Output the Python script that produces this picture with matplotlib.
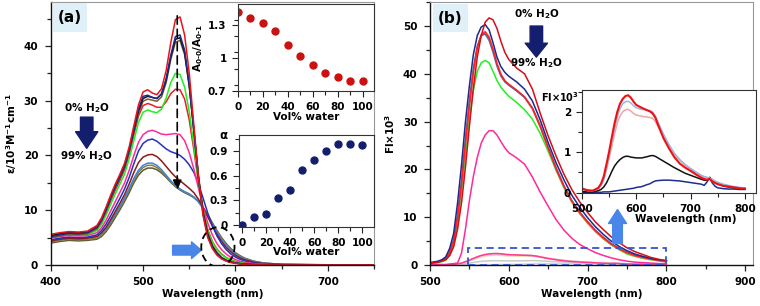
import matplotlib
matplotlib.use("Agg")
import matplotlib.pyplot as plt
from matplotlib.patches import Rectangle, Ellipse
from matplotlib.ticker import MultipleLocator

plt.rcParams['font.family'] = ['DejaVu Sans']
plt.rcParams['font.weight'] = 'bold'
plt.rcParams['mathtext.fontset'] = 'dejavusans'
plt.rcParams['mathtext.default'] = 'bf'

# ---------------- Panel (a): absorption ----------------
wl_a = [400, 410, 420, 430, 440, 450, 455, 460, 465, 470, 475, 480, 485, 490, 495,
        500, 505, 510, 515, 520, 525, 530, 535, 540, 545, 550, 555, 560, 565, 570,
        575, 580, 585, 590, 595, 600, 605, 610, 620, 630, 650, 700, 750]

abs_c12 = [4.0, 4.3, 4.5, 4.4, 4.5, 4.7, 5.2, 6.1, 7.3, 8.7, 10.1, 11.6, 13.2, 15.0, 16.4,
           17.3, 17.7, 17.7, 17.4, 16.8, 16.0, 15.1, 14.3, 13.7, 13.2, 12.8, 12.3, 11.6, 10.5, 9.2,
           7.7, 6.3, 5.0, 3.9, 3.0, 2.25, 1.7, 1.25, 0.7, 0.38, 0.12, 0.04, 0.02]
abs_c11 = [4.2, 4.5, 4.7, 4.6, 4.7, 4.9, 5.5, 6.4, 7.7, 9.1, 10.5, 12.0, 13.6, 15.4, 16.9,
           17.8, 18.2, 18.2, 17.8, 17.1, 16.2, 15.2, 14.4, 13.8, 13.3, 12.9, 12.4, 11.6, 10.5, 9.1,
           7.6, 6.2, 4.9, 3.8, 2.9, 2.15, 1.6, 1.2, 0.65, 0.35, 0.11, 0.03, 0.02]
abs_c10 = [4.5, 4.8, 5.0, 4.9, 5.0, 5.2, 5.8, 6.7, 8.0, 9.4, 10.8, 12.3, 14.0, 15.8, 17.3,
           18.2, 18.6, 18.6, 18.2, 17.4, 16.4, 15.4, 14.5, 13.9, 13.4, 13.0, 12.4, 11.5, 10.3, 8.9,
           7.4, 6.0, 4.7, 3.6, 2.7, 2.0, 1.5, 1.1, 0.6, 0.32, 0.1, 0.03, 0.02]
abs_c9 = [4.4, 4.7, 4.9, 4.8, 4.9, 5.2, 5.9, 6.9, 8.3, 9.8, 11.3, 12.9, 14.8, 16.9, 18.7,
          19.7, 20.1, 20.2, 19.8, 19.0, 18.0, 17.0, 16.1, 15.4, 14.7, 14.0, 13.2, 12.0, 10.5, 8.8,
          7.1, 5.6, 4.3, 3.2, 2.4, 1.75, 1.3, 0.95, 0.5, 0.26, 0.08, 0.02, 0.01]
abs_c8 = [4.6, 4.9, 5.1, 5.0, 5.1, 5.5, 6.3, 7.5, 9.0, 10.6, 12.2, 13.9, 16.0, 18.5, 20.8,
          22.2, 22.8, 23.0, 22.6, 21.9, 21.2, 20.7, 20.4, 20.0, 19.3, 18.3, 16.9, 14.8, 12.2, 9.5,
          7.2, 5.3, 3.9, 2.8, 2.0, 1.45, 1.05, 0.75, 0.38, 0.2, 0.06, 0.02, 0.01]
abs_c7 = [4.9, 5.2, 5.4, 5.3, 5.4, 5.9, 6.8, 8.2, 9.9, 11.6, 13.3, 15.0, 17.3, 20.0, 22.4,
          23.8, 24.4, 24.6, 24.3, 23.9, 23.8, 23.9, 24.0, 23.8, 22.7, 20.5, 17.5, 14.0, 10.6, 7.7,
          5.5, 3.9, 2.8, 2.0, 1.4, 1.0, 0.7, 0.5, 0.25, 0.12, 0.04, 0.01, 0.0]
abs_c6 = [5.3, 5.6, 5.9, 5.8, 5.9, 6.6, 7.8, 9.6, 11.7, 13.7, 15.5, 17.4, 20.3, 23.8, 27.2,
          29.1, 29.5, 29.2, 28.8, 28.8, 29.8, 31.3, 32.1, 32.0, 30.3, 26.5, 21.0, 15.0, 10.0, 6.5,
          4.3, 2.9, 2.0, 1.35, 0.95, 0.65, 0.45, 0.3, 0.15, 0.07, 0.02, 0.0, 0.0]
abs_c5 = [5.1, 5.4, 5.6, 5.5, 5.6, 6.3, 7.4, 9.1, 11.1, 13.0, 14.8, 16.6, 19.4, 22.7, 26.0,
          27.9, 28.3, 28.0, 27.8, 28.5, 30.5, 33.3, 35.0, 34.8, 32.5, 28.0, 21.8, 15.2, 9.9, 6.3,
          4.2, 2.8, 1.9, 1.3, 0.9, 0.6, 0.4, 0.27, 0.13, 0.06, 0.02, 0.0, 0.0]
abs_c4 = [5.0, 5.3, 5.6, 5.5, 5.7, 6.6, 7.9, 9.8, 12.0, 14.0, 15.8, 17.7, 20.6, 24.1, 27.7,
          29.9, 30.3, 30.1, 29.9, 30.7, 33.3, 37.5, 40.7, 41.0, 38.4, 32.6, 24.6, 16.3, 9.9, 5.9,
          3.6, 2.3, 1.4, 0.9, 0.6, 0.4, 0.27, 0.17, 0.09, 0.04, 0.0, 0.0, 0.0]
abs_c3 = [5.4, 5.7, 6.0, 5.9, 6.0, 6.9, 8.3, 10.3, 12.5, 14.5, 16.3, 18.2, 21.1, 24.6, 28.2,
          30.4, 30.8, 30.6, 30.4, 31.2, 33.8, 38.0, 41.2, 41.5, 38.8, 32.8, 24.5, 16.0, 9.5, 5.6,
          3.4, 2.1, 1.3, 0.85, 0.55, 0.38, 0.25, 0.15, 0.08, 0.04, 0.0, 0.0, 0.0]
abs_c2 = [5.2, 5.5, 5.8, 5.7, 5.9, 6.9, 8.2, 10.1, 12.3, 14.3, 16.1, 18.0, 21.0, 24.7, 28.5,
          30.8, 31.0, 30.6, 30.4, 31.3, 34.0, 38.3, 41.7, 42.0, 39.2, 33.0, 24.5, 15.8, 9.2, 5.3,
          3.2, 2.0, 1.2, 0.8, 0.5, 0.35, 0.22, 0.14, 0.07, 0.03, 0.0, 0.0, 0.0]
abs_c1 = [5.6, 5.9, 6.1, 6.0, 6.2, 7.2, 8.6, 10.6, 12.8, 14.8, 16.6, 18.6, 21.6, 25.4, 29.2,
          31.6, 32.0, 31.4, 31.1, 32.2, 35.5, 40.6, 44.8, 45.3, 42.0, 35.0, 25.5, 16.0, 9.0, 5.0,
          3.0, 1.8, 1.1, 0.7, 0.45, 0.3, 0.2, 0.12, 0.06, 0.03, 0.0, 0.0, 0.0]

abs_series = [abs_c12, abs_c11, abs_c10, abs_c9, abs_c8, abs_c7, abs_c6, abs_c5, abs_c4, abs_c3, abs_c2, abs_c1]
abs_colors = ['#5c5a2e', '#8a7a45', '#3d85d8', '#8b1a1a', '#2233bb', '#ff2a9a',
              '#ee1c24', '#22ee22', '#7a5c2e', '#111111', '#1c2a8c', '#e8141a']

water = [0, 10, 20, 30, 40, 50, 60, 70, 80, 90, 100]
ratio = [1.416, 1.367, 1.321, 1.242, 1.120, 1.020, 0.935, 0.864, 0.822, 0.791, 0.785]
alpha_v = [0.0, 0.094, 0.135, 0.331, 0.421, 0.671, 0.798, 0.908, 0.994, 0.994, 0.973]

# ---------------- Panel (b): fluorescence ----------------
wl_b = [500, 510, 515, 520, 525, 530, 535, 540, 545, 550, 555, 560, 565, 570, 575, 580, 585,
        590, 595, 600, 610, 620, 630, 640, 650, 660, 670, 680, 690, 700, 710, 720, 730, 740,
        750, 760, 770, 780, 790, 800]
fl_magenta = [0.1, 0.1, 0.1, 0.1, 0.2, 0.3, 0.4, 2.5, 7.5, 13.5, 18.5, 22.5, 25.5, 27.2, 28.1, 28.1, 27.2,
              25.8, 24.5, 23.5, 22.4, 21.1, 18.4, 15.2, 12.3, 9.5, 7.3, 5.6, 4.3, 3.4, 2.6, 2.0, 1.5, 1.1,
              0.8, 0.6, 0.5, 0.4, 0.3, 0.3]
fl_green = [0.3, 0.5, 0.7, 1.0, 2.0, 4.0, 8.5, 15.5, 23.0, 30.5, 36.5, 40.5, 42.3, 42.8, 42.3, 40.5, 38.6,
            37.2, 36.2, 35.3, 34.0, 32.5, 30.5, 27.5, 23.8, 19.8, 16.2, 13.2, 10.8, 8.8, 7.0, 5.5, 4.2, 3.2,
            2.3, 1.8, 1.4, 1.1, 0.9, 0.7]
fl_salmon = [0.4, 0.6, 0.9, 1.3, 2.5, 4.8, 9.6, 16.5, 25.0, 33.0, 40.2, 45.4, 48.2, 48.9, 47.8, 45.3, 42.3,
             40.0, 38.6, 37.8, 36.5, 35.0, 32.6, 28.8, 24.3, 20.0, 16.3, 13.2, 10.8, 8.8, 7.0, 5.5, 4.3, 3.3,
             2.5, 1.9, 1.5, 1.2, 0.9, 0.7]
fl_steel = [0.4, 0.6, 0.9, 1.4, 2.8, 5.4, 10.6, 17.8, 26.5, 34.5, 41.2, 45.8, 48.0, 48.3, 47.0, 44.5, 41.6,
            39.5, 38.3, 37.6, 36.4, 35.1, 32.9, 29.2, 24.7, 20.4, 16.6, 13.5, 11.1, 9.1, 7.3, 5.8, 4.5, 3.5,
            2.7, 2.1, 1.7, 1.3, 1.0, 0.8]
fl_red2 = [0.4, 0.6, 0.9, 1.3, 2.6, 5.0, 10.0, 17.0, 25.5, 33.5, 40.5, 45.5, 48.0, 48.7, 47.5, 45.0, 42.0,
           39.8, 38.5, 37.8, 36.6, 35.2, 32.8, 29.0, 24.5, 20.2, 16.5, 13.4, 11.0, 9.0, 7.2, 5.7, 4.4, 3.4,
           2.6, 2.0, 1.6, 1.3, 1.0, 0.8]
fl_navy = [0.5, 0.8, 1.1, 1.7, 3.5, 6.6, 13.0, 21.0, 30.0, 37.5, 44.0, 48.0, 49.8, 50.3, 49.2, 46.5, 43.5,
           41.5, 40.3, 39.5, 38.3, 36.8, 34.3, 30.3, 25.6, 21.4, 17.8, 14.6, 12.1, 9.9, 8.0, 6.4, 5.0, 3.9,
           3.0, 2.3, 1.8, 1.4, 1.1, 0.9]
fl_red = [0.4, 0.6, 0.8, 1.1, 2.0, 3.8, 7.5, 13.0, 20.5, 29.0, 37.0, 43.5, 48.0, 50.8, 51.7, 51.3, 49.5,
          46.8, 44.5, 43.0, 41.2, 40.0, 36.8, 31.7, 27.0, 22.8, 19.0, 15.8, 13.2, 11.0, 9.0, 7.4, 5.9, 4.7,
          3.6, 2.8, 2.2, 1.6, 1.2, 0.9]

fl_series = [fl_magenta, fl_green, fl_salmon, fl_steel, fl_red2, fl_navy, fl_red]
fl_colors = ['#ff2a9a', '#22ee22', '#e8735a', '#3a78c8', '#ff2020', '#1c2a8c', '#d0101a']

wl_i = [500, 510, 520, 530, 535, 540, 545, 550, 555, 560, 565, 570, 575, 580, 585, 590, 595, 600,
        610, 620, 625, 630, 635, 640, 650, 660, 670, 680, 690, 700, 710, 720, 725, 730, 735, 740,
        745, 750, 760, 770, 780, 790, 800]
in_blue = [0.0, 0.0, 0.01, 0.01, 0.01, 0.02, 0.02, 0.02, 0.03, 0.04, 0.05, 0.06, 0.07, 0.08, 0.09, 0.10,
           0.11, 0.13, 0.15, 0.20, 0.22, 0.26, 0.29, 0.30, 0.31, 0.31, 0.30, 0.29, 0.27, 0.25, 0.23, 0.21,
           0.18, 0.26, 0.37, 0.24, 0.16, 0.12, 0.10, 0.09, 0.09, 0.08, 0.08]
in_black = [0.03, 0.02, 0.02, 0.05, 0.08, 0.14, 0.24, 0.38, 0.53, 0.66, 0.75, 0.82, 0.87, 0.90, 0.90, 0.88,
            0.87, 0.86, 0.86, 0.89, 0.91, 0.92, 0.90, 0.86, 0.78, 0.70, 0.62, 0.55, 0.48, 0.43, 0.38, 0.33,
            0.31, 0.31, 0.38, 0.31, 0.26, 0.22, 0.17, 0.14, 0.12, 0.11, 0.10]
in_lightred = [0.12, 0.06, 0.05, 0.10, 0.18, 0.32, 0.56, 0.85, 1.15, 1.45, 1.72, 1.90, 2.00, 2.05, 2.06,
               2.02, 1.96, 1.92, 1.89, 1.87, 1.86, 1.84, 1.76, 1.64, 1.38, 1.15, 0.95, 0.80, 0.68, 0.58,
               0.50, 0.42, 0.39, 0.37, 0.35, 0.32, 0.28, 0.25, 0.20, 0.17, 0.14, 0.12, 0.11]
in_lightblue = [0.08, 0.05, 0.05, 0.10, 0.18, 0.33, 0.60, 0.92, 1.25, 1.58, 1.88, 2.08, 2.20, 2.25, 2.26,
                2.22, 2.15, 2.10, 2.06, 2.04, 2.03, 2.00, 1.90, 1.75, 1.45, 1.20, 0.98, 0.82, 0.70, 0.60,
                0.51, 0.43, 0.40, 0.38, 0.36, 0.33, 0.29, 0.26, 0.21, 0.18, 0.15, 0.13, 0.12]
in_red = [0.10, 0.06, 0.05, 0.12, 0.22, 0.40, 0.70, 1.02, 1.38, 1.72, 2.00, 2.20, 2.32, 2.39, 2.41, 2.35,
          2.25, 2.17, 2.10, 2.04, 2.01, 1.96, 1.86, 1.68, 1.35, 1.10, 0.88, 0.72, 0.62, 0.54, 0.45, 0.37,
          0.34, 0.32, 0.34, 0.28, 0.24, 0.21, 0.17, 0.15, 0.13, 0.11, 0.10]

in_series = [in_blue, in_black, in_lightred, in_lightblue, in_red]
in_colors = ['#1f2e8a', '#111111', '#f4a3a3', '#9db5df', '#ee1111']
main_small_colors = ['#cfd8ea', '#c9c9c9', '#f6d2b8', '#e6c6d6', '#ff3b8a']

FS = 7.5
LW = 1.1
fig = plt.figure(figsize=(7.6, 3.06), dpi=100)


def style_main(ax):
    ax.tick_params(which='both', direction='out', labelsize=FS, pad=5, width=0.9, color='#222222')
    ax.tick_params(which='major', length=4)
    ax.tick_params(which='minor', length=3)
    for s in ['left', 'bottom']:
        ax.spines[s].set_color('#111111')
        ax.spines[s].set_linewidth(1.0)
    for s in ['top', 'right']:
        ax.spines[s].set_color('#999999')
        ax.spines[s].set_linewidth(0.8)


def style_inset(ax):
    ax.tick_params(which='both', direction='out', labelsize=FS, pad=4, width=0.8, color='#222222')
    ax.tick_params(which='major', length=4)
    ax.tick_params(which='minor', length=3)
    for s in ax.spines.values():
        s.set_color('#333333')
        s.set_linewidth(0.8)


# ---- Panel (a) ----
axA = fig.add_axes([0.0667, 0.134, 0.4254, 0.859])
for ys, c in zip(abs_series, abs_colors):
    axA.plot(wl_a, ys, color=c, lw=LW)
axA.set_xlim(400, 750)
axA.set_ylim(0, 48)
axA.xaxis.set_major_locator(MultipleLocator(100))
axA.xaxis.set_minor_locator(MultipleLocator(50))
axA.yaxis.set_major_locator(MultipleLocator(10))
axA.yaxis.set_minor_locator(MultipleLocator(5))
style_main(axA)
axA.set_xlabel('Wavelength (nm)', fontsize=FS, fontweight='bold', labelpad=1)
axA.set_ylabel(r'ε/10$^3$M$^{-1}$cm$^{-1}$', fontsize=FS, fontweight='bold', labelpad=3)

axA.add_patch(Rectangle((402.5, 42.5), 36.8, 5.3, facecolor='#dff0f8', edgecolor='none', zorder=3))
axA.text(420.9, 45.15, '(a)', fontsize=11, fontweight='bold', ha='center', va='center', zorder=4)

axA.annotate('', xy=(537, 13.6), xytext=(537, 45.5),
             arrowprops=dict(arrowstyle='-|>,head_width=0.25,head_length=0.6', color='black',
                             lw=1.2, linestyle=(0, (5, 3)), shrinkA=0, shrinkB=0))
axA.add_patch(Ellipse((581, 3.3), 36, 7.2, fill=False, ec='black', lw=1.3, ls=(0, (4, 2.5)), zorder=5))
axA.annotate('', xy=(563, 2.7), xytext=(532, 2.7),
             arrowprops=dict(arrowstyle='simple,head_width=12,head_length=7,tail_width=7',
                             mutation_scale=1, color='#4a86e8', shrinkA=0, shrinkB=0))
axA.text(439, 28.6, r'0% H$_2$O', fontsize=FS, fontweight='bold', ha='center', va='center')
axA.annotate('', xy=(439, 21.3), xytext=(439, 27.0),
             arrowprops=dict(arrowstyle='simple,head_width=16,head_length=12,tail_width=9',
                             mutation_scale=1, color='#141e6e', shrinkA=0, shrinkB=0))
axA.text(439, 19.9, r'99% H$_2$O', fontsize=FS, fontweight='bold', ha='center', va='center')

# inset 1: ratio
ax1 = fig.add_axes([0.3128, 0.7036, 0.1793, 0.2824])
ax1.plot(water, ratio, 'o', color='#cc1111', ms=5)
ax1.set_xlim(0, 109)
ax1.set_ylim(0.7, 1.49)
ax1.set_yticks([0.7, 1.0, 1.3])
ax1.set_yticklabels(['0.7', '1', '1.3'])
ax1.xaxis.set_major_locator(MultipleLocator(20))
ax1.xaxis.set_minor_locator(MultipleLocator(10))
ax1.yaxis.set_minor_locator(MultipleLocator(0.15))
style_inset(ax1)
ax1.set_xlabel('Vol% water', fontsize=FS, fontweight='bold', labelpad=0)
ax1.set_ylabel(r'A$_{0‐0}$/A$_{0‐1}$', fontsize=FS, fontweight='bold', labelpad=2)

# inset 2: alpha
ax2 = fig.add_axes([0.3149, 0.2572, 0.1768, 0.3016])
ax2.plot(water, alpha_v, 'o', color='#141e6e', ms=5)
ax2.set_xlim(-2.5, 109.5)
ax2.set_ylim(-0.03, 1.1)
ax2.set_yticks([0, 0.3, 0.6, 0.9])
ax2.set_yticklabels(['0', '0.3', '0.6', '0.9'])
ax2.xaxis.set_major_locator(MultipleLocator(20))
ax2.xaxis.set_minor_locator(MultipleLocator(10))
ax2.yaxis.set_minor_locator(MultipleLocator(0.15))
style_inset(ax2)
ax2.set_xlabel('Vol% water', fontsize=FS, fontweight='bold', labelpad=-1)
ax2.text(-0.09, 1.0, 'α', transform=ax2.transAxes, fontsize=FS + 1, fontweight='bold',
         ha='right', va='center')

# ---- Panel (b) ----
axB = fig.add_axes([0.5658, 0.134, 0.425, 0.859])
for ys, c in zip(in_series, main_small_colors):
    axB.plot(wl_i, ys, color=c, lw=LW)
for ys, c in zip(fl_series, fl_colors):
    axB.plot(wl_b, ys, color=c, lw=LW)
axB.set_xlim(500, 910)
axB.set_ylim(0, 55)
axB.xaxis.set_major_locator(MultipleLocator(100))
axB.xaxis.set_minor_locator(MultipleLocator(50))
axB.yaxis.set_major_locator(MultipleLocator(10))
axB.yaxis.set_minor_locator(MultipleLocator(5))
style_main(axB)
axB.set_xlabel('Wavelength (nm)', fontsize=FS, fontweight='bold', labelpad=1)
axB.set_ylabel(r'Fl×10$^3$', fontsize=FS, fontweight='bold', labelpad=4)

axB.add_patch(Rectangle((503.4, 48.7), 45.2, 5.9, facecolor='#dff0f8', edgecolor='none', zorder=3))
axB.text(526, 51.6, '(b)', fontsize=11, fontweight='bold', ha='center', va='center', zorder=4)
axB.add_patch(Rectangle((548, 0.1), 252, 3.4, fill=False, ec='#3355cc', lw=1.3, ls=(0, (4, 2.5)), zorder=5))
axB.text(635, 52.4, r'0% H$_2$O', fontsize=FS, fontweight='bold', ha='center', va='center')
axB.annotate('', xy=(635, 43.5), xytext=(635, 50.0),
             arrowprops=dict(arrowstyle='simple,head_width=16,head_length=10,tail_width=9',
                             mutation_scale=1, color='#141e6e', shrinkA=0, shrinkB=0))
axB.text(635, 42.2, r'99% H$_2$O', fontsize=FS, fontweight='bold', ha='center', va='center')
axB.annotate('', xy=(738, 11.6), xytext=(738, 4.5),
             arrowprops=dict(arrowstyle='simple,head_width=13,head_length=10,tail_width=7',
                             mutation_scale=1, color='#4a86e8', shrinkA=0, shrinkB=0))

# inset 3: low fluorescence
ax3 = fig.add_axes([0.7658, 0.3703, 0.2286, 0.3356])
for ys, c in zip(in_series, in_colors):
    ax3.plot(wl_i, ys, color=c, lw=LW if c != '#ee1111' else 1.5)
ax3.set_xlim(500, 820)
ax3.set_ylim(0, 2.54)
ax3.xaxis.set_major_locator(MultipleLocator(100))
ax3.xaxis.set_minor_locator(MultipleLocator(50))
ax3.yaxis.set_major_locator(MultipleLocator(1))
ax3.yaxis.set_minor_locator(MultipleLocator(0.5))
style_inset(ax3)
ax3.set_xlabel('Wavelength (nm)', fontsize=FS, fontweight='bold', labelpad=0)
ax3.xaxis.label.set_x(0.6)
ax3.text(-0.02, 0.935, r'Fl×10$^3$', transform=ax3.transAxes, fontsize=FS - 0.5, fontweight='bold',
         ha='right', va='center')

fig.savefig('out.png', dpi=100)
